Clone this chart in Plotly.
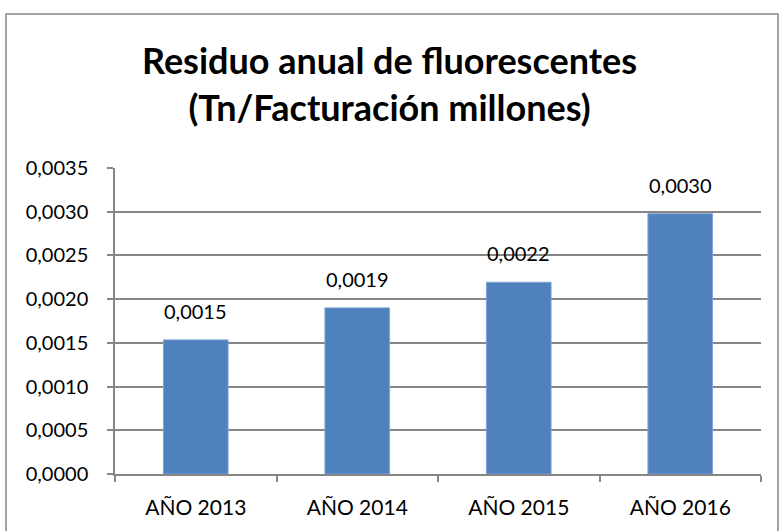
import plotly.graph_objects as go

categories = ["AÑO 2013", "AÑO 2014", "AÑO 2015", "AÑO 2016"]
values = [0.001534, 0.001900, 0.002193, 0.002977]
y_ticks = [0.0, 0.0005, 0.0010, 0.0015, 0.0020, 0.0025, 0.0030, 0.0035]

FONT = "Lato"
GRID = "#868686"

fig = go.Figure()
fig.add_trace(go.Bar(
    x=categories, y=values,
    marker=dict(color="#4F81BD", line=dict(color="#7FA3D6", width=1)),
    width=0.4,
    hoverinfo="x+y",
))

for c, v in zip(categories, values):
    fig.add_annotation(x=c, y=v, text=f"{v:.4f}".replace(".", ","),
                       showarrow=False, yanchor="bottom", yshift=15,
                       font=dict(family=FONT, size=20, color="black"))

fig.update_layout(
    width=779, height=531,
    margin=dict(l=115, r=18, t=168, b=55),
    paper_bgcolor="white", plot_bgcolor="white",
    separators=",.",
    showlegend=False,
    title=dict(text="<b>Residuo anual de fluorescentes<br>(Tn/Facturación millones)</b>",
               x=0.5, xref="container", xanchor="center",
               y=0.86, yref="container", yanchor="top",
               font=dict(family=FONT, size=36, color="black")),
    font=dict(family=FONT, size=20, color="black"),
    bargap=0.6,
)
fig.update_xaxes(
    type="category", showline=True, linecolor=GRID, linewidth=1.5,
    ticks="outside", tickson="boundaries", ticklen=6, tickcolor=GRID, tickwidth=1.5,
    showgrid=False, tickfont=dict(family=FONT, size=21, color="black"),
    ticklabelstandoff=14,
)
fig.update_yaxes(
    range=[0, 0.0035], tickvals=y_ticks, tickformat=".4f",
    showline=True, linecolor=GRID, linewidth=1.5,
    ticks="outside", ticklen=6, tickcolor=GRID, tickwidth=1.5,
    showgrid=True, gridcolor=GRID, gridwidth=1.5, zeroline=False,
    tickfont=dict(family=FONT, size=20, color="black"),
    ticklabelstandoff=15,
)
# chart border
fig.add_shape(type="rect", xref="paper", yref="paper",
              x0=-0.1687, x1=1.0263, y0=-0.3, y1=1.503,
              line=dict(color="#878787", width=1.5), layer="below")

fig.write_html("out.html", config={"displayModeBar": False},
               post_script="document.body.style.margin='0';")
